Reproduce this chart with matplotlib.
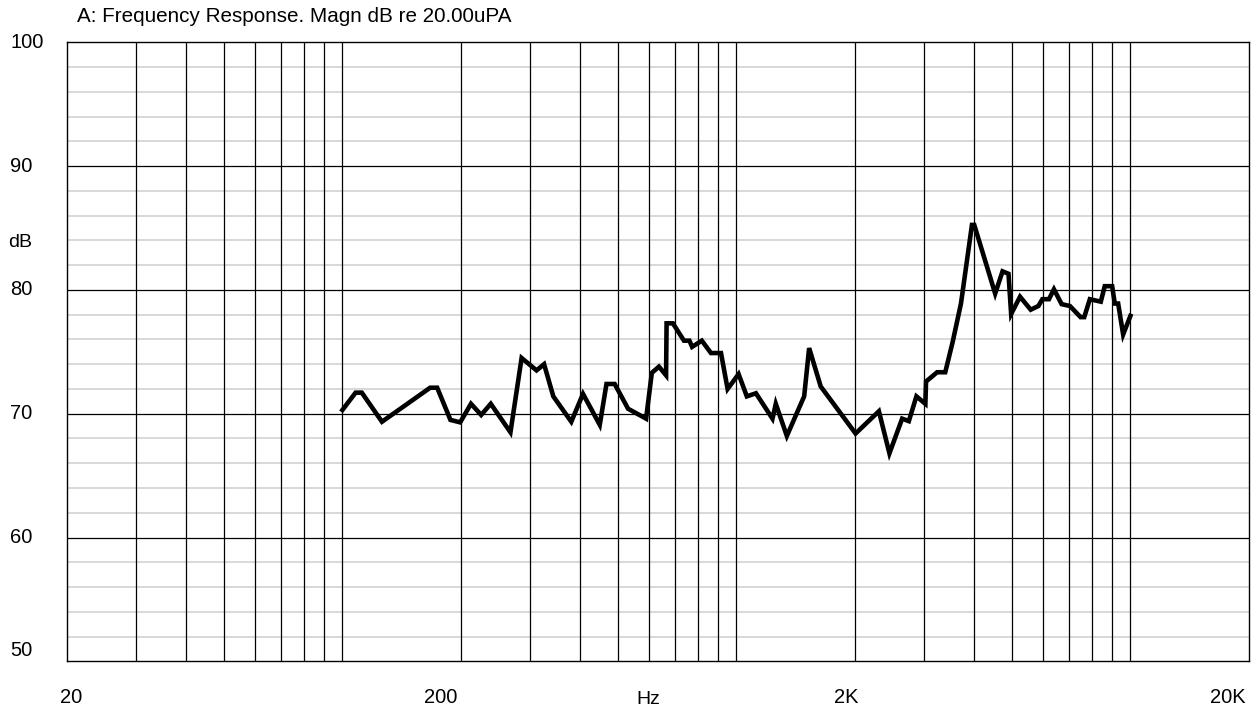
import numpy as np
import matplotlib
matplotlib.use("Agg")
import matplotlib.pyplot as plt

plt.rcParams['font.family'] = ['Liberation Sans', 'DejaVu Sans']

# frequency response
freq_hz = [100, 108, 112, 126, 167, 174, 188, 199, 212, 225, 238, 267, 285, 311, 325, 343,
           381, 408, 450, 468, 491, 531, 590, 610, 636, 663, 665, 690, 736, 760, 772, 817,
           862, 914, 950, 1013, 1063, 1121, 1235, 1259, 1343, 1486, 1530, 1637, 2007, 2300,
           2446, 2635, 2740, 2864, 3018, 3030, 3233, 3390, 3540, 3716, 3962, 4016, 4538,
           4738, 4906, 4982, 5248, 5586, 5843, 5980, 6215, 6398, 6692, 7024, 7476, 7638,
           7892, 8414, 8610, 8992, 9130, 9312, 9588, 10004]
magn_db = [70.3, 71.7, 71.7, 69.35, 72.1, 72.1, 69.5, 69.3, 70.8, 69.9, 70.8, 68.5, 74.5,
           73.5, 74.0, 71.4, 69.35, 71.6, 69.1, 72.4, 72.4, 70.4, 69.6, 73.3, 73.8, 73.1,
           77.3, 77.3, 75.9, 75.9, 75.4, 75.9, 74.9, 74.9, 72.0, 73.2, 71.4, 71.65, 69.6,
           70.8, 68.2, 71.4, 75.3, 72.2, 68.4, 70.2, 66.8, 69.6, 69.4, 71.4, 70.8, 72.6,
           73.35, 73.35, 75.8, 78.9, 85.25, 85.25, 79.7, 81.5, 81.3, 78.05, 79.45, 78.4,
           78.7, 79.25, 79.25, 80.05, 78.85, 78.7, 77.8, 77.8, 79.25, 79.05, 80.3, 80.3,
           78.9, 78.9, 76.4, 77.9]

y_ticks = [50, 60, 70, 80, 90, 100]
x_labels = ['20', '200', '2K', '20K']
x_label_pos = [20.5, 178, 1900, 17660]   # where the analyser prints them (not centred on the lines)

fig = plt.figure(figsize=(12.58, 7.11), dpi=100)
ax = fig.add_axes([0.0533, 0.0699, 0.9395, 0.8706])

ax.set_xscale('log')
ax.set_xlim(20, 20000)
ax.set_ylim(50, 100)

# grid: every 2 dB light, every 10 dB dark; verticals at 1..9 x decade
for v in range(52, 100, 2):
    if v % 10:
        ax.axhline(v, color='#d6d6d6', lw=1.3, zorder=1)
for v in y_ticks[1:-1]:
    ax.axhline(v, color='black', lw=0.9, zorder=1)
grid_x = [m * d for d in (10, 100, 1000) for m in range(2, 10) if m * d > 20] + [100, 1000, 10000]
for f in sorted(set(grid_x)):
    ax.axvline(f, color='black', lw=0.9, zorder=1)

ax.plot(freq_hz, magn_db, color='black', lw=3.3, solid_joinstyle='miter', zorder=3)

ax.set_xticks([])
ax.set_yticks([])
ax.minorticks_off()
for s in ax.spines.values():
    s.set_linewidth(1.0)

ytr = ax.get_yaxis_transform()
for v in y_ticks:
    yy = v + 0.9 if v == 50 else v
    ax.text(-0.048, yy, str(v), transform=ytr, ha='left', va='center', fontsize=14.5)
ax.text(-0.05, 83.8, 'dB', transform=ytr, ha='left', va='center', fontsize=14)

xtr = ax.get_xaxis_transform()
for f, lab in zip(x_label_pos, x_labels):
    ax.text(f, -0.059, lab, transform=xtr, ha='center', va='center', fontsize=14.5)
ax.text(0.492, -0.062, 'Hz', transform=ax.transAxes, ha='center', va='center', fontsize=14)

fig.text(77 / 1258, 1 - 17 / 711, 'A: Frequency Response. Magn dB re 20.00uPA',
         ha='left', va='center', fontsize=14.9)

fig.savefig('out.png', dpi=100)
